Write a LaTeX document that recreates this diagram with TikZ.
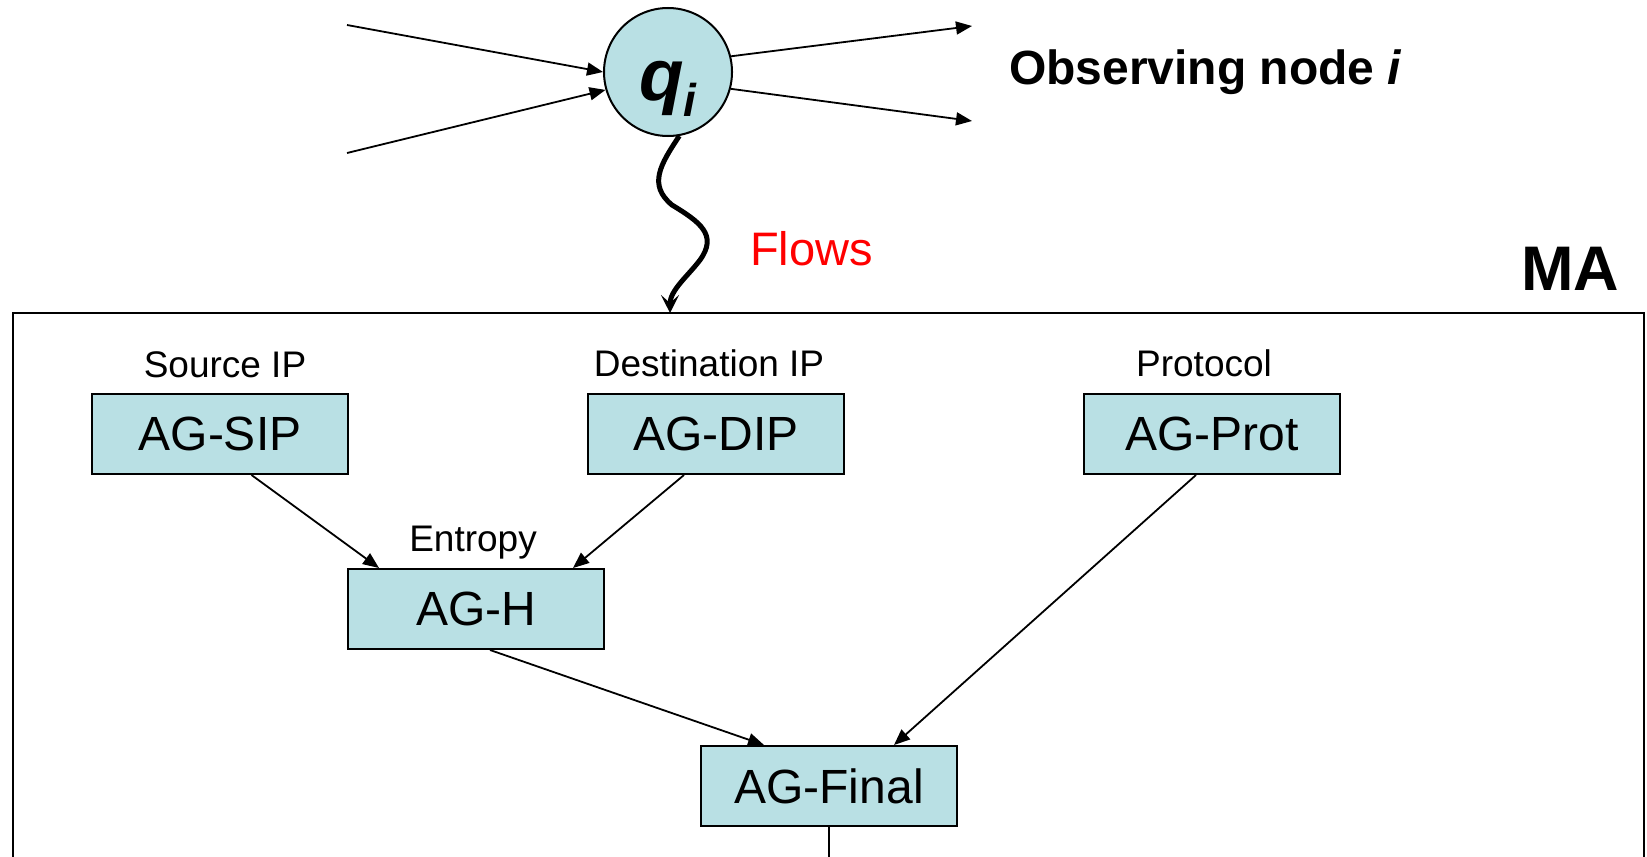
\documentclass[tikz,border=0pt]{standalone}
\usepackage{fontspec}
\setmainfont{Liberation Sans}
\usetikzlibrary{arrows.meta}
\definecolor{agfill}{RGB}{185,224,228}

\begin{document}
\begin{tikzpicture}[x=0.5pt,y=-0.5pt,
  ag/.style={draw,line width=1pt,fill=agfill,minimum width=128pt,minimum height=40pt,inner sep=0pt,font=\fontsize{24}{28}\selectfont},
  lbl/.style={anchor=base,font=\fontsize{18.5}{22}\selectfont},
  link/.style={line width=0.9pt,-{Triangle[length=8pt,width=6.5pt]}}]
\useasboundingbox (0,0) rectangle (1647,856);
\node [circle,draw,line width=1pt,fill=agfill,minimum size=64pt,inner sep=0pt,text height=28pt,text depth=0pt,
  font=\bfseries\itshape\fontsize{36.5}{40}\selectfont] (q) at (668,72) {q\raisebox{-8.5pt}{\fontsize{23}{26}\selectfont i}};
\coordinate (in1) at (347,25);
\coordinate (in2) at (347,153);
\coordinate (out1) at (972,26);
\coordinate (out2) at (972,121);
\draw [link] (in1) -- (q.180);
\draw [link] (in2) -- (q.196);
\draw [link] (q.14) -- (out1);
\draw [link] (q.-15) -- (out2);
\node [anchor=base west,font=\bfseries\fontsize{24}{28}\selectfont] (obs) at (1002,85) {Observing node \textit{i}};

\draw [line width=1pt] (13,860) -- (13,313) -- (1644,313) -- (1644,860);
\coordinate (flowin) at (670,313);
\draw [line width=2.5pt,-{Stealth[length=9pt,width=9pt,inset=4pt]}] (q.-80) .. controls (660,165) and (648,185) .. (672,205)
  .. controls (700,222) and (718,235) .. (700,260) .. controls (688,276) and (670,290) .. (flowin);
\node [anchor=base west,text=red,font=\fontsize{23.5}{28}\selectfont] (flows) at (743,265) {Flows};
\node [anchor=base west,font=\bfseries\fontsize{31.5}{36}\selectfont] (ma) at (1514,290) {MA};

\node [ag] (sip) at (220,434) {AG-SIP};
\node [ag] (dip) at (716,434) {AG-DIP};
\node [ag] (prot) at (1212,434) {AG-Prot};
\node [ag] (h) at (476,609) {AG-H};
\node [ag] (final) at (829,786) {AG-Final};
\node [lbl] (srclbl) at (225,377) {Source IP};
\node [lbl] (dstlbl) at (709,376) {Destination IP};
\node [lbl] (protlbl) at (1204,376) {Protocol};
\node [lbl] (hlbl) at (473,551) {Entropy};

\draw [link] ([xshift=15.75pt]sip.south) -- ([xshift=-48.5pt]h.north);
\draw [link] ([xshift=-16pt]dip.south) -- ([xshift=48.5pt]h.north);
\draw [link] ([xshift=-8pt]prot.south) -- ([xshift=32.5pt]final.north);
\draw [link] ([xshift=7pt]h.south) -- ([xshift=-32.5pt]final.north);
\coordinate (exit) at (829,860);
\draw [line width=0.9pt] (final.south) -- (exit);
\end{tikzpicture}
\end{document}
